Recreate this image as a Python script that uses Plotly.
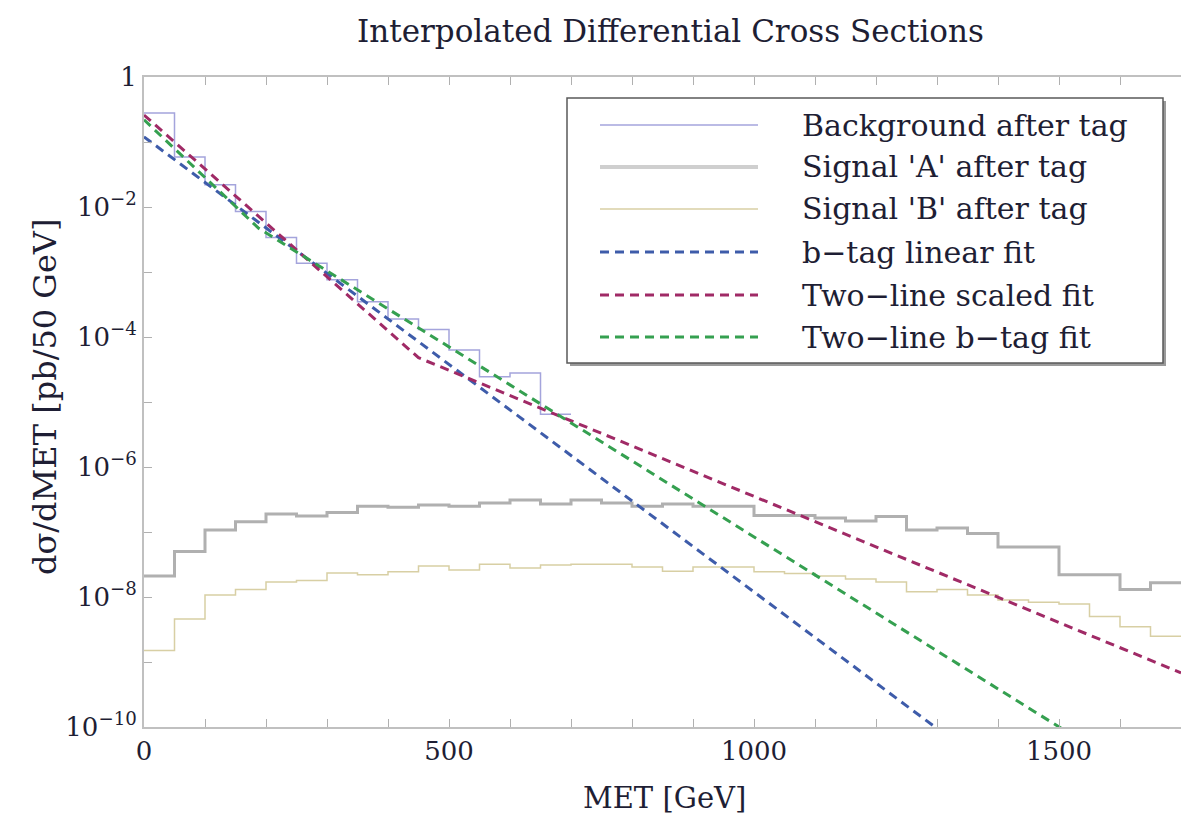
import plotly.graph_objects as go

# ---------------- data ----------------
bin_width = 50

bg_edges = list(range(0, 701, bin_width))
bg_vals = [0.28, 0.059, 0.022, 0.0085, 0.0034, 0.00136, 7.6e-4, 3.5e-4,
           1.9e-4, 1.3e-4, 6.3e-5, 2.45e-5, 2.8e-5, 6.5e-6]

sig_edges = list(range(0, 1701, bin_width))
sigA_vals = [2.1e-8, 5.0e-8, 1.07e-7, 1.44e-7, 1.9e-7, 1.77e-7, 2.0e-7, 2.5e-7,
             2.4e-7, 2.6e-7, 2.5e-7, 2.8e-7, 3.1e-7, 2.7e-7, 3.1e-7, 2.8e-7,
             2.5e-7, 2.7e-7, 2.5e-7, 2.5e-7, 1.8e-7, 1.8e-7, 1.64e-7, 1.47e-7,
             1.73e-7, 1.07e-7, 1.15e-7, 9.5e-8, 5.9e-8, 5.9e-8, 2.2e-8, 2.2e-8,
             1.3e-8, 1.65e-8]
sigB_vals = [1.5e-9, 4.6e-9, 1.07e-8, 1.3e-8, 1.7e-8, 1.8e-8, 2.35e-8, 2.2e-8,
             2.45e-8, 3.0e-8, 2.6e-8, 3.2e-8, 2.8e-8, 3.1e-8, 3.2e-8, 3.2e-8,
             2.9e-8, 2.5e-8, 2.9e-8, 2.9e-8, 2.45e-8, 2.3e-8, 2.1e-8, 1.9e-8,
             1.7e-8, 1.2e-8, 1.3e-8, 1.07e-8, 9.0e-9, 8.3e-9, 7.8e-9, 5.0e-9,
             3.5e-9, 2.5e-9]

# fit lines (knots; straight in log space between knots)
blue_x = [0, 1700]
blue_y = [0.12, 1.5e-13]
purple_x = [0, 450, 1700]
purple_y = [0.26, 4.8e-5, 6.8e-10]
green_x = [0, 188, 1700]
green_y = [0.22, 4.7e-3, 6.8e-12]

names = ["Background after tag", "Signal 'A' after tag", "Signal 'B' after tag",
         "b\u2212tag linear fit", "Two\u2212line scaled fit", "Two\u2212line b\u2212tag fit"]

x_major = [0, 500, 1000, 1500]
x_minor = [v for v in range(0, 1701, 100) if v % 500 != 0]
y_major_exp = [0, -2, -4, -6, -8, -10]
y_minor_exp = [-1, -3, -5, -7, -9]
y_major = [10.0 ** e for e in y_major_exp]
y_major_text = ["1" if e == 0 else "10<sup>\u2212%d</sup>" % (-e) for e in y_major_exp]
y_minor = [10.0 ** e for e in y_minor_exp]

# ---------------- styles ----------------
C_BG = "#a4a4dc"
C_A = "#b0b0b0"
C_B = "#d8cfa4"
C_BLUE = "#3e5caa"
C_PURPLE = "#a02a66"
C_GREEN = "#35a050"
DASH = "9px,6px"
FONT = "DejaVu Serif"
TXT = "#1e1e34"

fig = go.Figure()


def step(edges, vals):
    return edges, list(vals) + [vals[-1]]


x, y = step(sig_edges, sigA_vals)
fig.add_trace(go.Scatter(x=x, y=y, mode="lines", line_shape="hv", name=names[1],
                         line=dict(color=C_A, width=3)))
x, y = step(sig_edges, sigB_vals)
fig.add_trace(go.Scatter(x=x, y=y, mode="lines", line_shape="hv", name=names[2],
                         line=dict(color=C_B, width=1.5)))
x, y = step(bg_edges, bg_vals)
fig.add_trace(go.Scatter(x=x, y=y, mode="lines", line_shape="hv", name=names[0],
                         line=dict(color=C_BG, width=1.5)))
fig.add_trace(go.Scatter(x=blue_x, y=blue_y, mode="lines", name=names[3],
                         line=dict(color=C_BLUE, width=3, dash=DASH)))
fig.add_trace(go.Scatter(x=purple_x, y=purple_y, mode="lines", name=names[4],
                         line=dict(color=C_PURPLE, width=3, dash=DASH)))
fig.add_trace(go.Scatter(x=green_x, y=green_y, mode="lines", name=names[5],
                         line=dict(color=C_GREEN, width=3, dash=DASH)))

# ---------------- layout ----------------
W, H = 1181, 818
L, R, T, B = 144, 0, 77, 91
pw, ph = W - L - R, H - T - B


def px(xp):
    return (xp - L) / pw


def py(yp):
    return (H - B - yp) / ph


tick_common = dict(ticks="inside", ticklen=8, tickwidth=1.2, tickcolor="#b0b0b0",
                   showline=True, linecolor="#c0c0c0", linewidth=2,
                   showgrid=False, zeroline=False,
                   tickfont=dict(family=FONT, size=26, color=TXT))
minor_common = dict(ticks="inside", ticklen=8, tickwidth=1.2, tickcolor="#b0b0b0",
                    showgrid=False)

fig.update_layout(
    width=W, height=H, showlegend=False,
    margin=dict(l=L, r=R, t=T, b=B, pad=0),
    paper_bgcolor="white", plot_bgcolor="white",
    xaxis=dict(range=[0, 1700], tickmode="array", tickvals=x_major,
               ticktext=[str(v) for v in x_major], mirror="ticks",
               minor=dict(tickmode="array", tickvals=x_minor, **minor_common),
               **tick_common),
    yaxis=dict(type="log", range=[-10, 0], tickmode="array",
               tickvals=y_major, ticktext=y_major_text, mirror=False,
               minor=dict(tickmode="array", tickvals=y_minor, **minor_common),
               **tick_common),
)

annotations = [
    dict(text="Interpolated Differential Cross Sections", x=px(670), y=py(31),
         font=dict(family=FONT, size=31, color=TXT)),
    dict(text="MET [GeV]", x=px(664), y=py(798),
         font=dict(family=FONT, size=29, color=TXT)),
    dict(text="d\u03c3/dMET [pb/50 GeV]", x=px(45), y=py(397), textangle=-90,
         font=dict(family=FONT, size=32, color=TXT)),
]

# legend (drawn with shapes + annotations to get long sample lines)
shapes = [
    dict(type="rect", xref="paper", yref="paper", x0=px(570), x1=px(1166),
         y0=py(366), y1=py(101), fillcolor="#9a9a9a", line=dict(width=0),
         layer="above"),
    dict(type="rect", xref="paper", yref="paper", x0=px(567), x1=px(1163),
         y0=py(363), y1=py(98), fillcolor="white",
         line=dict(color="#5a5a5a", width=1.5), layer="above"),
]
row_y = [125, 167, 209, 252, 295, 337]
leg_styles = [dict(color=C_BG, width=1.5), dict(color="#cfcfcf", width=4),
              dict(color=C_B, width=1.5), dict(color=C_BLUE, width=3, dash=DASH),
              dict(color=C_PURPLE, width=3, dash=DASH),
              dict(color=C_GREEN, width=3, dash=DASH)]
for name, yy, st in zip(names, row_y, leg_styles):
    shapes.append(dict(type="line", xref="paper", yref="paper", x0=px(600),
                       x1=px(758), y0=py(yy), y1=py(yy), line=st, layer="above"))
    annotations.append(dict(text=name, x=px(800), y=py(yy), xanchor="left",
                            font=dict(family=FONT, size=30, color=TXT)))

for a in annotations:
    a.setdefault("xref", "paper")
    a.setdefault("yref", "paper")
    a.setdefault("showarrow", False)
    a.setdefault("xanchor", "center")
    a.setdefault("yanchor", "middle")

fig.update_layout(annotations=annotations, shapes=shapes)

fig.write_html("out.html", config={"displayModeBar": False},
               post_script="document.body.style.margin='0';"
                           "document.body.style.padding='0';")
